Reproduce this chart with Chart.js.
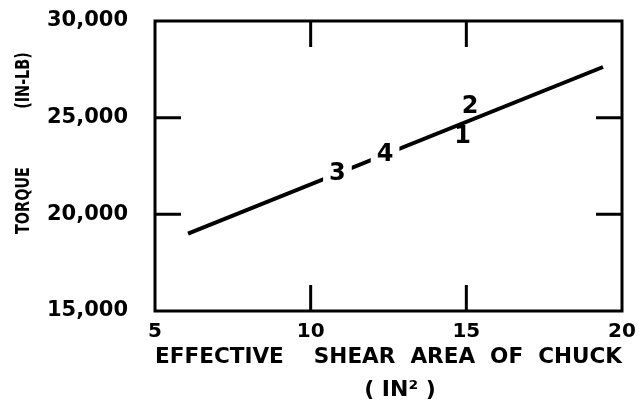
<!DOCTYPE html>
<html><head><meta charset="utf-8">
<script src="https://cdn.jsdelivr.net/npm/chart.js@4"></script>
<style>html,body{margin:0;padding:0;background:#fff;} #c{display:block;}</style>
</head><body>
<canvas id="c" width="639" height="414"></canvas>
<script>
// ---- data ----
const xTicks = [5, 10, 15, 20];
const yTicks = [15000, 20000, 25000, 30000];
const lineX = [6.06, 19.39];
const lineY = [19000, 27620];
const pointNames = ['1', '2', '3', '4'];
const pointX = [14.88, 15.12, 10.86, 12.39];
const pointY = [24050, 25600, 22130, 23150];
const knockout = [false, false, true, true];
const xTitle = ['EFFECTIVE    SHEAR  AREA  OF  CHUCK', '   ( IN\u00B2 )'];
const yTitleParts = ['TORQUE', '(IN-LB)'];

const FONT = '"DejaVu Sans", sans-serif';
const TICKLEN = 26;

const framePlugin = {
  id: 'frame',
  beforeDatasetsDraw(chart) {
    const {ctx, chartArea: a, scales: {x, y}} = chart;
    ctx.save();
    ctx.strokeStyle = '#000';
    ctx.lineWidth = 3;
    ctx.lineCap = 'square';
    ctx.strokeRect(a.left, a.top, a.right - a.left, a.bottom - a.top);
    ctx.lineCap = 'butt';
    ctx.beginPath();
    xTicks.slice(1, -1).forEach(v => {
      const px = x.getPixelForValue(v);
      ctx.moveTo(px, a.bottom); ctx.lineTo(px, a.bottom - TICKLEN);
      ctx.moveTo(px, a.top); ctx.lineTo(px, a.top + TICKLEN);
    });
    yTicks.slice(1, -1).forEach(v => {
      const py = y.getPixelForValue(v);
      ctx.moveTo(a.left, py); ctx.lineTo(a.left + TICKLEN, py);
      ctx.moveTo(a.right, py); ctx.lineTo(a.right - TICKLEN, py);
    });
    ctx.stroke();
    ctx.restore();
  },
  afterDatasetsDraw(chart) {
    const {ctx, scales: {x, y}} = chart;
    ctx.save();
    ctx.font = 'bold 24px ' + FONT;
    ctx.textAlign = 'center';
    ctx.textBaseline = 'middle';
    pointNames.forEach((t, i) => {
      const px = x.getPixelForValue(pointX[i]);
      const py = y.getPixelForValue(pointY[i]);
      if (knockout[i]) {
        const w = ctx.measureText(t).width + 12;
        ctx.fillStyle = '#fff';
        ctx.fillRect(px - w / 2, py - 12, w, 24);
      }
      ctx.fillStyle = '#000';
      ctx.fillText(t, px, py + 1);
    });
    ctx.restore();
  },
  afterDraw(chart) {
    const {ctx} = chart;
    const parts = [[yTitleParts[0], 200.5], [yTitleParts[1], 80.5]];
    ctx.save();
    ctx.fillStyle = '#000';
    ctx.font = 'bold 20px ' + FONT;
    ctx.textAlign = 'center';
    ctx.textBaseline = 'middle';
    parts.forEach(([t, cy]) => {
      ctx.save();
      ctx.translate(22.5, cy);
      ctx.rotate(-Math.PI / 2);
      ctx.scale(0.72, 1);
      ctx.fillText(t, 0, 1);
      ctx.restore();
    });
    ctx.restore();
  }
};

new Chart(document.getElementById('c'), {
  type: 'scatter',
  data: {
    datasets: [{
      data: lineX.map((v, i) => ({x: v, y: lineY[i]})),
      showLine: true,
      borderColor: '#000',
      borderWidth: 4,
      pointRadius: 0,
      borderCapStyle: 'butt'
    }]
  },
  options: {
    responsive: false,
    animation: false,
    devicePixelRatio: 1,
    layout: {padding: {top: 21, right: 17, left: 0, bottom: 0}},
    plugins: {legend: {display: false}, tooltip: {enabled: false}},
    scales: {
      x: {
        type: 'linear', min: xTicks[0], max: xTicks[xTicks.length - 1],
        afterBuildTicks: s => { s.ticks = xTicks.map(v => ({value: v})); },
        afterFit: s => { s.height = 103; s.paddingLeft = 0; s.paddingRight = 0; },
        grid: {display: false, drawTicks: false},
        border: {display: false},
        ticks: {color: '#000', padding: 9, maxRotation: 0, autoSkip: false,
          font: {family: FONT, size: 20, weight: 'bold'}},
        title: {display: true, text: xTitle, color: '#000',
          font: {family: FONT, size: 22, weight: 'bold', lineHeight: 1.5},
          padding: {top: 0, bottom: 7}}
      },
      y: {
        type: 'linear', min: yTicks[0], max: yTicks[yTicks.length - 1],
        afterBuildTicks: s => { s.ticks = yTicks.map(v => ({value: v})); },
        afterFit: s => { s.width = 155; s.paddingTop = 0; s.paddingBottom = 0; },
        grid: {display: false, drawTicks: false},
        border: {display: false},
        ticks: {color: '#000', padding: 27, autoSkip: false,
          font: {family: FONT, size: 21, weight: 'bold'},
          callback: v => v.toLocaleString('en-US')}
      }
    }
  },
  plugins: [framePlugin]
});
</script>
</body></html>
